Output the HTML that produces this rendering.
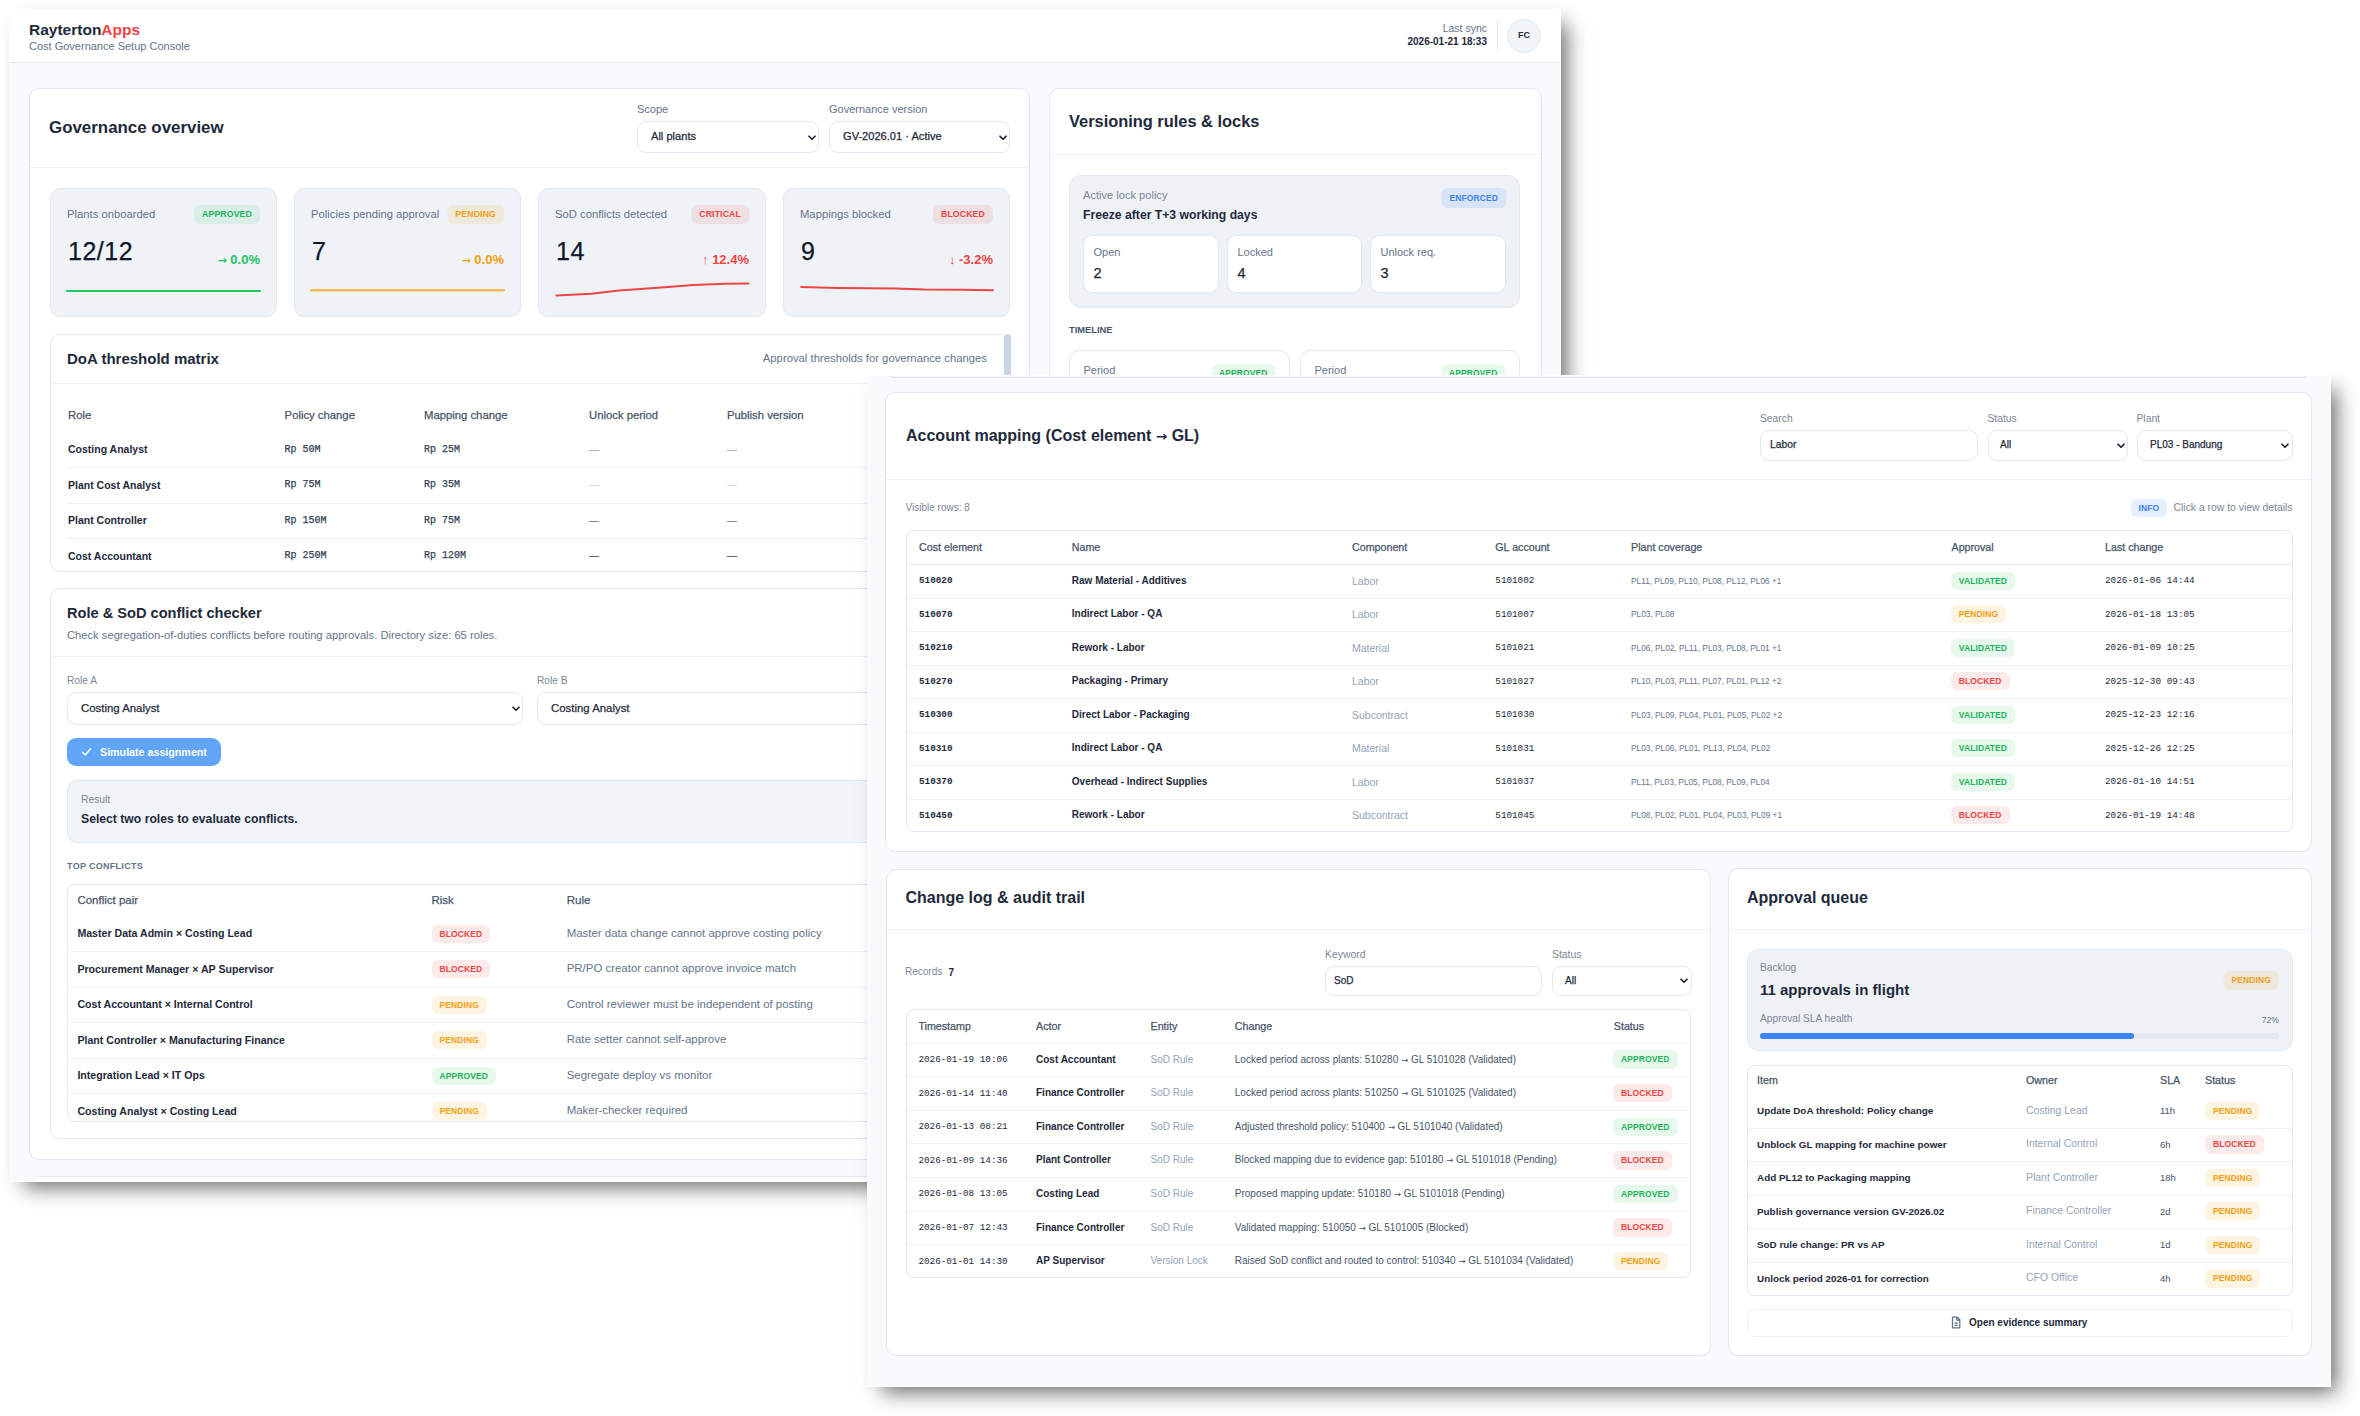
<!DOCTYPE html>
<html><head><meta charset="utf-8"><title>RaytertonApps - Cost Governance Setup Console</title><style>
*{box-sizing:content-box}
html,body{margin:0;padding:0}
body{width:2360px;height:1416px;background:#fff;position:relative;overflow:hidden;font-family:"Liberation Sans",Arial,sans-serif;color:#0f172a}
.shot{position:absolute;overflow:hidden;background:#f8fafc}
.in{position:absolute;left:0;top:0}
.t{position:absolute;white-space:nowrap;line-height:1}
.b{position:absolute}
.bd{position:absolute;white-space:nowrap;font-weight:700;border-radius:6px}
.md{-webkit-text-stroke:0.25px currentColor}
.ar{font-family:'DejaVu Sans',sans-serif;font-size:0.85em}
.card{position:absolute;background:#fff;border:1px solid #e2e8f0;border-radius:10px;box-sizing:border-box}
.hl{position:absolute;height:1px;background:#eef1f5}
</style></head><body>
<div class="shot" style="left:9px;top:9px;width:1552px;height:1173px;box-shadow:10px 10px 20px -5px rgba(0,0,0,.6);z-index:1;border-right:1px solid #fff;border-bottom:1px solid #fff;box-sizing:border-box">
<div class="in" style="left:-9px;top:-9px">
<div class="b" style="left:9px;top:9px;width:1552px;height:53px;background:#fff;border-bottom:1px solid #e8ecf1;"></div>
<div class="t" style="left:29px;top:21.8px;font-size:15.5px;font-weight:700;color:#1e293b">Rayterton<span style="color:#ef4444">Apps</span></div>
<div class="t" style="left:29px;top:41.0px;font-size:11px;font-weight:400;color:#64748b;">Cost Governance Setup Console</div>
<div class="t" style="left:1487px;top:22.8px;font-size:10.5px;font-weight:400;color:#64748b;transform:translateX(-100%);">Last sync</div>
<div class="t" style="left:1487px;top:36.8px;font-size:10px;font-weight:700;color:#1e293b;transform:translateX(-100%);">2026-01-21 18:33</div>
<div class="b" style="left:1497px;top:21px;width:1px;height:29px;background:#e2e8f0"></div>
<div class="b" style="left:1507px;top:18.5px;width:34px;height:34.0px;background:#f1f5f9;border:1px solid #e2e8f0;border-radius:50%;box-sizing:border-box"></div>
<div class="t" style="left:1524px;top:31.0px;font-size:9px;font-weight:700;color:#1e293b;transform:translateX(-50%);">FC</div>
<div class="card" style="left:29px;top:88px;width:1001px;height:1072px;"></div>
<div class="t" style="left:49px;top:120.4px;font-size:16.9px;font-weight:700;color:#1e293b;">Governance overview</div>
<div class="t" style="left:637px;top:104.0px;font-size:11px;font-weight:400;color:#64748b;">Scope</div>
<div class="b" style="left:637px;top:121px;width:182px;height:32px;background:#fff;border:1px solid #e2e8f0;border-radius:9px;box-sizing:border-box;"></div>
<div class="t md" style="left:651px;top:131.4px;font-size:11.1px;font-weight:400;color:#1e293b;">All plants</div>
<svg class="b" style="left:807.5px;top:134.5px" width="8" height="6" viewBox="0 0 8 6"><path d="M1 1.2 L4 4.2 L7 1.2" fill="none" stroke="#0f172a" stroke-width="1.6" stroke-linecap="round" stroke-linejoin="round"/></svg>
<div class="t" style="left:829px;top:104.0px;font-size:11px;font-weight:400;color:#64748b;">Governance version</div>
<div class="b" style="left:829px;top:121px;width:181px;height:32px;background:#fff;border:1px solid #e2e8f0;border-radius:9px;box-sizing:border-box;"></div>
<div class="t md" style="left:843px;top:131.4px;font-size:11.1px;font-weight:400;color:#1e293b;">GV-2026.01 · Active</div>
<svg class="b" style="left:998.5px;top:134.5px" width="8" height="6" viewBox="0 0 8 6"><path d="M1 1.2 L4 4.2 L7 1.2" fill="none" stroke="#0f172a" stroke-width="1.6" stroke-linecap="round" stroke-linejoin="round"/></svg>
<div class="hl" style="left:30px;top:167px;width:999px;background:#eef1f5"></div>
<div class="b" style="left:50px;top:188px;width:227px;height:129px;background:#eff3f8;border:1px solid #e2e8f0;border-radius:10px;box-sizing:border-box"></div>
<div class="t" style="left:67px;top:208.9px;font-size:11.25px;font-weight:400;color:#64748b;">Plants onboarded</div>
<div class="bd" style="left:260px;top:204.8px;height:19.5px;line-height:19.5px;padding:0 8px;background:rgba(34,197,94,.11);color:#22b45a;font-size:8.7px;letter-spacing:0.15px;transform:translateX(-100%);">APPROVED</div>
<div class="t md" style="left:68px;top:238.5px;font-size:25px;font-weight:400;color:#0f172a;letter-spacing:0.5px">12/12</div>
<div class="t" style="left:260px;top:252.5px;font-size:13px;font-weight:700;color:#22c55e;transform:translateX(-100%);"><span class="ar">→</span> 0.0%</div>
<div class="b" style="left:294px;top:188px;width:227px;height:129px;background:#eff3f8;border:1px solid #e2e8f0;border-radius:10px;box-sizing:border-box"></div>
<div class="t" style="left:311px;top:208.9px;font-size:11.25px;font-weight:400;color:#64748b;">Policies pending approval</div>
<div class="bd" style="left:504px;top:204.8px;height:19.5px;line-height:19.5px;padding:0 8px;background:rgba(245,158,11,.11);color:#f59e0b;font-size:8.7px;letter-spacing:0.15px;transform:translateX(-100%);">PENDING</div>
<div class="t md" style="left:312px;top:238.5px;font-size:25px;font-weight:400;color:#0f172a;letter-spacing:0.5px">7</div>
<div class="t" style="left:504px;top:252.5px;font-size:13px;font-weight:700;color:#f59e0b;transform:translateX(-100%);"><span class="ar">→</span> 0.0%</div>
<div class="b" style="left:538px;top:188px;width:228px;height:129px;background:#eff3f8;border:1px solid #e2e8f0;border-radius:10px;box-sizing:border-box"></div>
<div class="t" style="left:555px;top:208.9px;font-size:11.25px;font-weight:400;color:#64748b;">SoD conflicts detected</div>
<div class="bd" style="left:749px;top:204.8px;height:19.5px;line-height:19.5px;padding:0 8px;background:rgba(239,68,68,.11);color:#ef4444;font-size:8.7px;letter-spacing:0.15px;transform:translateX(-100%);">CRITICAL</div>
<div class="t md" style="left:556px;top:238.5px;font-size:25px;font-weight:400;color:#0f172a;letter-spacing:0.5px">14</div>
<div class="t" style="left:749px;top:252.5px;font-size:13px;font-weight:700;color:#ef4444;transform:translateX(-100%);">↑ 12.4%</div>
<div class="b" style="left:783px;top:188px;width:227px;height:129px;background:#eff3f8;border:1px solid #e2e8f0;border-radius:10px;box-sizing:border-box"></div>
<div class="t" style="left:800px;top:208.9px;font-size:11.25px;font-weight:400;color:#64748b;">Mappings blocked</div>
<div class="bd" style="left:993px;top:204.8px;height:19.5px;line-height:19.5px;padding:0 8px;background:rgba(239,68,68,.11);color:#ef4444;font-size:8.7px;letter-spacing:0.15px;transform:translateX(-100%);">BLOCKED</div>
<div class="t md" style="left:801px;top:238.5px;font-size:25px;font-weight:400;color:#0f172a;letter-spacing:0.5px">9</div>
<div class="t" style="left:993px;top:252.5px;font-size:13px;font-weight:700;color:#ef4444;transform:translateX(-100%);">↓ -3.2%</div>
<svg class="b" style="left:0;top:0" width="1040" height="320" viewBox="0 0 1040 320"><path d="M67 291 L260 291" fill="none" stroke="#22c55e" stroke-width="2" stroke-linecap="round" stroke-linejoin="round"/><path d="M311 290.3 L504 290.3" fill="none" stroke="#f8b133" stroke-width="2" stroke-linecap="round" stroke-linejoin="round"/><path d="M556.5 295.5 L591.4 293.8 L619 290.6 L661.4 287.6 L693.1 285.1 L724.9 283.8 L748.5 283.4" fill="none" stroke="#ef4444" stroke-width="2" stroke-linecap="round" stroke-linejoin="round"/><path d="M801 286.9 L838.4 287.9 L895.6 288.4 L924.2 289.6 L962.3 289.8 L993 290.3" fill="none" stroke="#ef4444" stroke-width="2" stroke-linecap="round" stroke-linejoin="round"/></svg>
<div class="card" style="left:50px;top:334px;width:980px;height:238px;"></div>
<div class="t" style="left:67px;top:351.0px;font-size:15px;font-weight:700;color:#1e293b;">DoA threshold matrix</div>
<div class="t" style="left:987px;top:352.9px;font-size:11.3px;font-weight:400;color:#64748b;transform:translateX(-100%);">Approval thresholds for governance changes</div>
<div class="hl" style="left:51px;top:383px;width:948px;background:#eef1f5"></div>
<div class="t md" style="left:68px;top:410.4px;font-size:11.3px;font-weight:400;color:#475569;">Role</div>
<div class="t md" style="left:284.6px;top:410.4px;font-size:11.3px;font-weight:400;color:#475569;">Policy change</div>
<div class="t md" style="left:424px;top:410.4px;font-size:11.3px;font-weight:400;color:#475569;">Mapping change</div>
<div class="t md" style="left:589px;top:410.4px;font-size:11.3px;font-weight:400;color:#475569;">Unlock period</div>
<div class="t md" style="left:727px;top:410.4px;font-size:11.3px;font-weight:400;color:#475569;">Publish version</div>
<div class="t" style="left:68px;top:444.4px;font-size:10.5px;font-weight:700;color:#1e293b;">Costing Analyst</div>
<div class="t md" style="left:284.6px;top:444.6px;font-size:10px;font-weight:400;color:#334155;font-family:'Liberation Mono',monospace;">Rp 50M</div>
<div class="t md" style="left:424px;top:444.6px;font-size:10px;font-weight:400;color:#334155;font-family:'Liberation Mono',monospace;">Rp 25M</div>
<div class="t" style="left:589px;top:444.6px;font-size:10px;font-weight:400;color:#94a3b8;">—</div>
<div class="t" style="left:727px;top:444.6px;font-size:10px;font-weight:400;color:#94a3b8;">—</div>
<div class="hl" style="left:67px;top:467.1px;width:933px;background:#eef1f5"></div>
<div class="t" style="left:68px;top:479.9px;font-size:10.5px;font-weight:700;color:#1e293b;">Plant Cost Analyst</div>
<div class="t md" style="left:284.6px;top:480.1px;font-size:10px;font-weight:400;color:#334155;font-family:'Liberation Mono',monospace;">Rp 75M</div>
<div class="t md" style="left:424px;top:480.1px;font-size:10px;font-weight:400;color:#334155;font-family:'Liberation Mono',monospace;">Rp 35M</div>
<div class="t" style="left:589px;top:480.1px;font-size:10px;font-weight:400;color:#cbd5e1;">—</div>
<div class="t" style="left:727px;top:480.1px;font-size:10px;font-weight:400;color:#cbd5e1;">—</div>
<div class="hl" style="left:67px;top:502.6px;width:933px;background:#eef1f5"></div>
<div class="t" style="left:68px;top:515.4px;font-size:10.5px;font-weight:700;color:#1e293b;">Plant Controller</div>
<div class="t md" style="left:284.6px;top:515.6px;font-size:10px;font-weight:400;color:#334155;font-family:'Liberation Mono',monospace;">Rp 150M</div>
<div class="t md" style="left:424px;top:515.6px;font-size:10px;font-weight:400;color:#334155;font-family:'Liberation Mono',monospace;">Rp 75M</div>
<div class="t" style="left:589px;top:515.6px;font-size:10px;font-weight:400;color:#64748b;">—</div>
<div class="t" style="left:727px;top:515.6px;font-size:10px;font-weight:400;color:#64748b;">—</div>
<div class="hl" style="left:67px;top:538.1px;width:933px;background:#eef1f5"></div>
<div class="t" style="left:68px;top:550.9px;font-size:10.5px;font-weight:700;color:#1e293b;">Cost Accountant</div>
<div class="t md" style="left:284.6px;top:551.1px;font-size:10px;font-weight:400;color:#334155;font-family:'Liberation Mono',monospace;">Rp 250M</div>
<div class="t md" style="left:424px;top:551.1px;font-size:10px;font-weight:400;color:#334155;font-family:'Liberation Mono',monospace;">Rp 120M</div>
<div class="t" style="left:589px;top:551.1px;font-size:10px;font-weight:400;color:#334155;">—</div>
<div class="t" style="left:727px;top:551.1px;font-size:10px;font-weight:400;color:#334155;">—</div>
<div class="card" style="left:50px;top:588px;width:980px;height:551px;"></div>
<div class="t" style="left:67px;top:605.7px;font-size:14.6px;font-weight:700;color:#1e293b;">Role &amp; SoD conflict checker</div>
<div class="t" style="left:67px;top:629.9px;font-size:11.2px;font-weight:400;color:#64748b;">Check segregation-of-duties conflicts before routing approvals. Directory size: 65 roles.</div>
<div class="hl" style="left:51px;top:655.5px;width:948px;background:#eef1f5"></div>
<div class="t" style="left:67px;top:675.9px;font-size:10.2px;font-weight:400;color:#7b8696;">Role A</div>
<div class="b" style="left:67px;top:692px;width:456px;height:33px;background:#fff;border:1px solid #e2e8f0;border-radius:9px;box-sizing:border-box;"></div>
<div class="t md" style="left:81px;top:702.8px;font-size:11.4px;font-weight:400;color:#1e293b;">Costing Analyst</div>
<svg class="b" style="left:511.5px;top:706.0px" width="8" height="6" viewBox="0 0 8 6"><path d="M1 1.2 L4 4.2 L7 1.2" fill="none" stroke="#0f172a" stroke-width="1.6" stroke-linecap="round" stroke-linejoin="round"/></svg>
<div class="t" style="left:537px;top:675.9px;font-size:10.2px;font-weight:400;color:#7b8696;">Role B</div>
<div class="b" style="left:537px;top:692px;width:456px;height:33px;background:#fff;border:1px solid #e2e8f0;border-radius:9px;box-sizing:border-box;"></div>
<div class="t md" style="left:551px;top:702.8px;font-size:11.4px;font-weight:400;color:#1e293b;">Costing Analyst</div>
<svg class="b" style="left:981.5px;top:706.0px" width="8" height="6" viewBox="0 0 8 6"><path d="M1 1.2 L4 4.2 L7 1.2" fill="none" stroke="#0f172a" stroke-width="1.6" stroke-linecap="round" stroke-linejoin="round"/></svg>
<div class="b" style="left:67px;top:738px;width:154px;height:28px;background:#60a5fa;border-radius:9px"></div>
<svg class="b" style="left:81px;top:747px" width="11" height="10" viewBox="0 0 11 10"><path d="M1.5 5.2 L4.3 8 L9.5 1.8" fill="none" stroke="#fff" stroke-width="1.6" stroke-linecap="round" stroke-linejoin="round"/></svg>
<div class="t" style="left:100px;top:746.6px;font-size:10.7px;font-weight:700;color:#fff;">Simulate assignment</div>
<div class="b" style="left:67px;top:779.5px;width:926px;height:63.5px;background:#f1f5f9;border:1px solid #e2e8f0;border-radius:10px;box-sizing:border-box"></div>
<div class="t" style="left:81px;top:795.4px;font-size:10.3px;font-weight:400;color:#7b8696;">Result</div>
<div class="t" style="left:81px;top:813.4px;font-size:12.2px;font-weight:700;color:#1e293b;">Select two roles to evaluate conflicts.</div>
<div class="t" style="left:67px;top:861.5px;font-size:9px;font-weight:700;color:#64748b;letter-spacing:0.3px">TOP CONFLICTS</div>
<div class="b" style="left:66.5px;top:884px;width:926.5px;height:238px;border:1px solid #e2e8f0;border-radius:8px;box-sizing:border-box;background:#fff"></div>
<div class="t md" style="left:77.4px;top:894.8px;font-size:11.5px;font-weight:400;color:#475569;">Conflict pair</div>
<div class="t md" style="left:431.5px;top:894.8px;font-size:11.5px;font-weight:400;color:#475569;">Risk</div>
<div class="t md" style="left:566.7px;top:894.8px;font-size:11.5px;font-weight:400;color:#475569;">Rule</div>
<div class="t" style="left:77.4px;top:928.2px;font-size:10.6px;font-weight:700;color:#1e293b;">Master Data Admin × Costing Lead</div>
<div class="bd" style="left:431.5px;top:924.5px;height:18px;line-height:18px;padding:0 8px;background:rgba(239,68,68,.11);color:#ef4444;font-size:8.5px;letter-spacing:0.1px;">BLOCKED</div>
<div class="t" style="left:566.7px;top:927.8px;font-size:11.45px;font-weight:400;color:#64748b;">Master data change cannot approve costing policy</div>
<div class="hl" style="left:67px;top:951.2px;width:925px;background:#eef1f5"></div>
<div class="t" style="left:77.4px;top:963.7px;font-size:10.6px;font-weight:700;color:#1e293b;">Procurement Manager × AP Supervisor</div>
<div class="bd" style="left:431.5px;top:960.0px;height:18px;line-height:18px;padding:0 8px;background:rgba(239,68,68,.11);color:#ef4444;font-size:8.5px;letter-spacing:0.1px;">BLOCKED</div>
<div class="t" style="left:566.7px;top:963.3px;font-size:11.45px;font-weight:400;color:#64748b;">PR/PO creator cannot approve invoice match</div>
<div class="hl" style="left:67px;top:986.7px;width:925px;background:#eef1f5"></div>
<div class="t" style="left:77.4px;top:999.2px;font-size:10.6px;font-weight:700;color:#1e293b;">Cost Accountant × Internal Control</div>
<div class="bd" style="left:431.5px;top:995.5px;height:18px;line-height:18px;padding:0 8px;background:rgba(245,158,11,.11);color:#f59e0b;font-size:8.5px;letter-spacing:0.1px;">PENDING</div>
<div class="t" style="left:566.7px;top:998.8px;font-size:11.45px;font-weight:400;color:#64748b;">Control reviewer must be independent of posting</div>
<div class="hl" style="left:67px;top:1022.2px;width:925px;background:#eef1f5"></div>
<div class="t" style="left:77.4px;top:1034.7px;font-size:10.6px;font-weight:700;color:#1e293b;">Plant Controller × Manufacturing Finance</div>
<div class="bd" style="left:431.5px;top:1031.0px;height:18px;line-height:18px;padding:0 8px;background:rgba(245,158,11,.11);color:#f59e0b;font-size:8.5px;letter-spacing:0.1px;">PENDING</div>
<div class="t" style="left:566.7px;top:1034.3px;font-size:11.45px;font-weight:400;color:#64748b;">Rate setter cannot self-approve</div>
<div class="hl" style="left:67px;top:1057.7px;width:925px;background:#eef1f5"></div>
<div class="t" style="left:77.4px;top:1070.2px;font-size:10.6px;font-weight:700;color:#1e293b;">Integration Lead × IT Ops</div>
<div class="bd" style="left:431.5px;top:1066.5px;height:18px;line-height:18px;padding:0 8px;background:rgba(34,197,94,.11);color:#22b45a;font-size:8.5px;letter-spacing:0.1px;">APPROVED</div>
<div class="t" style="left:566.7px;top:1069.8px;font-size:11.45px;font-weight:400;color:#64748b;">Segregate deploy vs monitor</div>
<div class="hl" style="left:67px;top:1093.2px;width:925px;background:#eef1f5"></div>
<div class="t" style="left:77.4px;top:1105.7px;font-size:10.6px;font-weight:700;color:#1e293b;">Costing Analyst × Costing Lead</div>
<div class="bd" style="left:431.5px;top:1102.0px;height:18px;line-height:18px;padding:0 8px;background:rgba(245,158,11,.11);color:#f59e0b;font-size:8.5px;letter-spacing:0.1px;">PENDING</div>
<div class="t" style="left:566.7px;top:1105.3px;font-size:11.45px;font-weight:400;color:#64748b;">Maker-checker required</div>
<div class="b" style="left:1002.6px;top:320px;width:26.399999999999977px;height:839px;background:#fff"></div>
<div class="b" style="left:1003.5px;top:334px;width:7.100000000000023px;height:366px;background:#cbd5e1;border-radius:4px"></div>
<div class="card" style="left:30px;top:1176px;width:1000px;height:124px;"></div>
<div class="card" style="left:1049px;top:88px;width:493px;height:1072px;"></div>
<div class="t" style="left:1069px;top:113.3px;font-size:16.4px;font-weight:700;color:#1e293b;">Versioning rules &amp; locks</div>
<div class="hl" style="left:1050px;top:154px;width:491px;background:#eef1f5"></div>
<div class="b" style="left:1069px;top:175px;width:451px;height:133px;background:#eef2f7;border:1px solid #e2e8f0;border-radius:12px;box-sizing:border-box"></div>
<div class="t" style="left:1083px;top:189.9px;font-size:11.1px;font-weight:400;color:#7b8696;">Active lock policy</div>
<div class="t" style="left:1083px;top:208.9px;font-size:12.2px;font-weight:700;color:#1e293b;">Freeze after T+3 working days</div>
<div class="bd" style="left:1506px;top:188.0px;height:20px;line-height:20px;padding:0 8px;background:rgba(59,130,246,.13);color:#3b82f6;font-size:8.5px;letter-spacing:0.1px;transform:translateX(-100%);">ENFORCED</div>
<div class="b" style="left:1083px;top:235px;width:135.5px;height:58px;background:#fff;border:1px solid #e2e8f0;border-radius:10px;box-sizing:border-box"></div>
<div class="t" style="left:1093.5px;top:247.0px;font-size:11px;font-weight:400;color:#64748b;">Open</div>
<div class="t md" style="left:1093.5px;top:266.2px;font-size:14.5px;font-weight:400;color:#1e293b;">2</div>
<div class="b" style="left:1227px;top:235px;width:134.5px;height:58px;background:#fff;border:1px solid #e2e8f0;border-radius:10px;box-sizing:border-box"></div>
<div class="t" style="left:1237.5px;top:247.0px;font-size:11px;font-weight:400;color:#64748b;">Locked</div>
<div class="t md" style="left:1237.5px;top:266.2px;font-size:14.5px;font-weight:400;color:#1e293b;">4</div>
<div class="b" style="left:1370px;top:235px;width:135.5px;height:58px;background:#fff;border:1px solid #e2e8f0;border-radius:10px;box-sizing:border-box"></div>
<div class="t" style="left:1380.5px;top:247.0px;font-size:11px;font-weight:400;color:#64748b;">Unlock req.</div>
<div class="t md" style="left:1380.5px;top:266.2px;font-size:14.5px;font-weight:400;color:#1e293b;">3</div>
<div class="t" style="left:1069px;top:326.4px;font-size:9.3px;font-weight:700;color:#475569;">TIMELINE</div>
<div class="b" style="left:1069px;top:349.5px;width:221px;height:110.5px;background:#fff;border:1px solid #e2e8f0;border-radius:10px;box-sizing:border-box"></div>
<div class="t" style="left:1083.5px;top:365.0px;font-size:11px;font-weight:400;color:#64748b;">Period</div>
<div class="bd" style="left:1275.5px;top:364.0px;height:18px;line-height:18px;padding:0 8px;background:rgba(34,197,94,.11);color:#22b45a;font-size:8.5px;letter-spacing:0.1px;transform:translateX(-100%);">APPROVED</div>
<div class="b" style="left:1300px;top:349.5px;width:220px;height:110.5px;background:#fff;border:1px solid #e2e8f0;border-radius:10px;box-sizing:border-box"></div>
<div class="t" style="left:1314.5px;top:365.0px;font-size:11px;font-weight:400;color:#64748b;">Period</div>
<div class="bd" style="left:1505.5px;top:364.0px;height:18px;line-height:18px;padding:0 8px;background:rgba(34,197,94,.11);color:#22b45a;font-size:8.5px;letter-spacing:0.1px;transform:translateX(-100%);">APPROVED</div>
</div></div>
<div class="shot" style="left:867px;top:375px;width:1464px;height:1012px;box-shadow:10px 10px 20px -5px rgba(0,0,0,.6);z-index:2;border-right:1px solid #fff;border-bottom:1px solid #fff;border-top:1px solid #fff;box-sizing:border-box;clip-path:inset(0 -80px -80px -80px)">
<div class="in" style="left:-867px;top:-376px">
<div class="card" style="left:884px;top:250px;width:1427px;height:127.80000000000001px;background:#f5f7f9;border-color:#e0e4e9"></div>
<div class="card" style="left:885px;top:392px;width:1427px;height:460px;"></div>
<div class="t" style="left:906px;top:428.0px;font-size:16px;font-weight:700;color:#1e293b;">Account mapping (Cost element <span class="ar">→</span> GL)</div>
<div class="t" style="left:1760px;top:413.9px;font-size:10.3px;font-weight:400;color:#7b8696;">Search</div>
<div class="b" style="left:1760px;top:429.5px;width:218px;height:31.0px;background:#fff;border:1px solid #e2e8f0;border-radius:9px;box-sizing:border-box;"></div>
<div class="t md" style="left:1770px;top:439.9px;font-size:10.3px;font-weight:400;color:#1e293b;">Labor</div>
<div class="t" style="left:1987.5px;top:413.9px;font-size:10.3px;font-weight:400;color:#7b8696;">Status</div>
<div class="b" style="left:1987.5px;top:429.5px;width:140.5px;height:31.0px;background:#fff;border:1px solid #e2e8f0;border-radius:9px;box-sizing:border-box;"></div>
<div class="t md" style="left:2000px;top:440.0px;font-size:10px;font-weight:400;color:#1e293b;">All</div>
<svg class="b" style="left:2116.5px;top:442.5px" width="8" height="6" viewBox="0 0 8 6"><path d="M1 1.2 L4 4.2 L7 1.2" fill="none" stroke="#0f172a" stroke-width="1.6" stroke-linecap="round" stroke-linejoin="round"/></svg>
<div class="t" style="left:2136.5px;top:413.9px;font-size:10.3px;font-weight:400;color:#7b8696;">Plant</div>
<div class="b" style="left:2136.5px;top:429.5px;width:156.0px;height:31.0px;background:#fff;border:1px solid #e2e8f0;border-radius:9px;box-sizing:border-box;"></div>
<div class="t md" style="left:2150px;top:440.0px;font-size:10px;font-weight:400;color:#1e293b;">PL03 - Bandung</div>
<svg class="b" style="left:2281.0px;top:442.5px" width="8" height="6" viewBox="0 0 8 6"><path d="M1 1.2 L4 4.2 L7 1.2" fill="none" stroke="#0f172a" stroke-width="1.6" stroke-linecap="round" stroke-linejoin="round"/></svg>
<div class="hl" style="left:886px;top:479px;width:1425px;background:#eef1f5"></div>
<div class="t" style="left:905.5px;top:502.5px;font-size:10px;font-weight:400;color:#7b8696;">Visible rows: 8</div>
<div class="bd" style="left:2130.5px;top:499.0px;height:18px;line-height:18px;padding:0 8px;background:rgba(59,130,246,.13);color:#3b82f6;font-size:8.5px;letter-spacing:0.1px;">INFO</div>
<div class="t" style="left:2292.5px;top:502.8px;font-size:10.4px;font-weight:400;color:#7b8696;transform:translateX(-100%);">Click a row to view details</div>
<div class="b" style="left:905.5px;top:530px;width:1387.0px;height:302px;border:1px solid #e2e8f0;border-radius:8px;box-sizing:border-box;background:#fff"></div>
<div class="t md" style="left:919px;top:541.6px;font-size:10.7px;font-weight:400;color:#475569;">Cost element</div>
<div class="t md" style="left:1071.8px;top:541.6px;font-size:10.7px;font-weight:400;color:#475569;">Name</div>
<div class="t md" style="left:1352px;top:541.6px;font-size:10.7px;font-weight:400;color:#475569;">Component</div>
<div class="t md" style="left:1495.3px;top:541.6px;font-size:10.7px;font-weight:400;color:#475569;">GL account</div>
<div class="t md" style="left:1631px;top:541.6px;font-size:10.7px;font-weight:400;color:#475569;">Plant coverage</div>
<div class="t md" style="left:1951.5px;top:541.6px;font-size:10.7px;font-weight:400;color:#475569;">Approval</div>
<div class="t md" style="left:2105px;top:541.6px;font-size:10.7px;font-weight:400;color:#475569;">Last change</div>
<div class="hl" style="left:906px;top:563.5px;width:1386px;background:#e8ecf1"></div>
<div class="t" style="left:919px;top:576.1px;font-size:9.3px;font-weight:700;color:#1e293b;font-family:'Liberation Mono',monospace;">510020</div>
<div class="t" style="left:1071.8px;top:575.8px;font-size:10px;font-weight:700;color:#1e293b;">Raw Material - Additives</div>
<div class="t" style="left:1352px;top:575.5px;font-size:10.5px;font-weight:400;color:#94a3b8;">Labor</div>
<div class="t" style="left:1495.3px;top:576.1px;font-size:9.3px;font-weight:400;color:#1e293b;font-family:'Liberation Mono',monospace;">5101002</div>
<div class="t" style="left:1631px;top:576.6px;font-size:8.3px;font-weight:400;color:#64748b;">PL11, PL09, PL10, PL08, PL12, PL06 +1</div>
<div class="bd" style="left:1950.8px;top:571.6px;height:18.4px;line-height:18.4px;padding:0 8px;background:rgba(34,197,94,.11);color:#22b45a;font-size:8.5px;letter-spacing:0.1px;">VALIDATED</div>
<div class="t" style="left:2105px;top:576.1px;font-size:9.35px;font-weight:400;color:#1e293b;font-family:'Liberation Mono',monospace;">2026-01-06 14:44</div>
<div class="hl" style="left:906px;top:597.5px;width:1386px;background:#eef1f5"></div>
<div class="t" style="left:919px;top:609.6px;font-size:9.3px;font-weight:700;color:#1e293b;font-family:'Liberation Mono',monospace;">510070</div>
<div class="t" style="left:1071.8px;top:609.3px;font-size:10px;font-weight:700;color:#1e293b;">Indirect Labor - QA</div>
<div class="t" style="left:1352px;top:609.0px;font-size:10.5px;font-weight:400;color:#94a3b8;">Labor</div>
<div class="t" style="left:1495.3px;top:609.6px;font-size:9.3px;font-weight:400;color:#1e293b;font-family:'Liberation Mono',monospace;">5101007</div>
<div class="t" style="left:1631px;top:610.1px;font-size:8.3px;font-weight:400;color:#64748b;">PL03, PL08</div>
<div class="bd" style="left:1950.8px;top:605.1px;height:18.4px;line-height:18.4px;padding:0 8px;background:rgba(245,158,11,.11);color:#f59e0b;font-size:8.5px;letter-spacing:0.1px;">PENDING</div>
<div class="t" style="left:2105px;top:609.6px;font-size:9.35px;font-weight:400;color:#1e293b;font-family:'Liberation Mono',monospace;">2026-01-18 13:05</div>
<div class="hl" style="left:906px;top:631.0px;width:1386px;background:#eef1f5"></div>
<div class="t" style="left:919px;top:643.1px;font-size:9.3px;font-weight:700;color:#1e293b;font-family:'Liberation Mono',monospace;">510210</div>
<div class="t" style="left:1071.8px;top:642.8px;font-size:10px;font-weight:700;color:#1e293b;">Rework - Labor</div>
<div class="t" style="left:1352px;top:642.5px;font-size:10.5px;font-weight:400;color:#94a3b8;">Material</div>
<div class="t" style="left:1495.3px;top:643.1px;font-size:9.3px;font-weight:400;color:#1e293b;font-family:'Liberation Mono',monospace;">5101021</div>
<div class="t" style="left:1631px;top:643.6px;font-size:8.3px;font-weight:400;color:#64748b;">PL06, PL02, PL11, PL03, PL08, PL01 +1</div>
<div class="bd" style="left:1950.8px;top:638.6px;height:18.4px;line-height:18.4px;padding:0 8px;background:rgba(34,197,94,.11);color:#22b45a;font-size:8.5px;letter-spacing:0.1px;">VALIDATED</div>
<div class="t" style="left:2105px;top:643.1px;font-size:9.35px;font-weight:400;color:#1e293b;font-family:'Liberation Mono',monospace;">2026-01-09 10:25</div>
<div class="hl" style="left:906px;top:664.5px;width:1386px;background:#eef1f5"></div>
<div class="t" style="left:919px;top:676.6px;font-size:9.3px;font-weight:700;color:#1e293b;font-family:'Liberation Mono',monospace;">510270</div>
<div class="t" style="left:1071.8px;top:676.3px;font-size:10px;font-weight:700;color:#1e293b;">Packaging - Primary</div>
<div class="t" style="left:1352px;top:676.0px;font-size:10.5px;font-weight:400;color:#94a3b8;">Labor</div>
<div class="t" style="left:1495.3px;top:676.6px;font-size:9.3px;font-weight:400;color:#1e293b;font-family:'Liberation Mono',monospace;">5101027</div>
<div class="t" style="left:1631px;top:677.1px;font-size:8.3px;font-weight:400;color:#64748b;">PL10, PL03, PL11, PL07, PL01, PL12 +2</div>
<div class="bd" style="left:1950.8px;top:672.1px;height:18.4px;line-height:18.4px;padding:0 8px;background:rgba(239,68,68,.11);color:#ef4444;font-size:8.5px;letter-spacing:0.1px;">BLOCKED</div>
<div class="t" style="left:2105px;top:676.6px;font-size:9.35px;font-weight:400;color:#1e293b;font-family:'Liberation Mono',monospace;">2025-12-30 09:43</div>
<div class="hl" style="left:906px;top:698.0px;width:1386px;background:#eef1f5"></div>
<div class="t" style="left:919px;top:710.1px;font-size:9.3px;font-weight:700;color:#1e293b;font-family:'Liberation Mono',monospace;">510300</div>
<div class="t" style="left:1071.8px;top:709.8px;font-size:10px;font-weight:700;color:#1e293b;">Direct Labor - Packaging</div>
<div class="t" style="left:1352px;top:709.5px;font-size:10.5px;font-weight:400;color:#94a3b8;">Subcontract</div>
<div class="t" style="left:1495.3px;top:710.1px;font-size:9.3px;font-weight:400;color:#1e293b;font-family:'Liberation Mono',monospace;">5101030</div>
<div class="t" style="left:1631px;top:710.6px;font-size:8.3px;font-weight:400;color:#64748b;">PL03, PL09, PL04, PL01, PL05, PL02 +2</div>
<div class="bd" style="left:1950.8px;top:705.6px;height:18.4px;line-height:18.4px;padding:0 8px;background:rgba(34,197,94,.11);color:#22b45a;font-size:8.5px;letter-spacing:0.1px;">VALIDATED</div>
<div class="t" style="left:2105px;top:710.1px;font-size:9.35px;font-weight:400;color:#1e293b;font-family:'Liberation Mono',monospace;">2025-12-23 12:16</div>
<div class="hl" style="left:906px;top:731.5px;width:1386px;background:#eef1f5"></div>
<div class="t" style="left:919px;top:743.6px;font-size:9.3px;font-weight:700;color:#1e293b;font-family:'Liberation Mono',monospace;">510310</div>
<div class="t" style="left:1071.8px;top:743.3px;font-size:10px;font-weight:700;color:#1e293b;">Indirect Labor - QA</div>
<div class="t" style="left:1352px;top:743.0px;font-size:10.5px;font-weight:400;color:#94a3b8;">Material</div>
<div class="t" style="left:1495.3px;top:743.6px;font-size:9.3px;font-weight:400;color:#1e293b;font-family:'Liberation Mono',monospace;">5101031</div>
<div class="t" style="left:1631px;top:744.1px;font-size:8.3px;font-weight:400;color:#64748b;">PL03, PL06, PL01, PL13, PL04, PL02</div>
<div class="bd" style="left:1950.8px;top:739.1px;height:18.4px;line-height:18.4px;padding:0 8px;background:rgba(34,197,94,.11);color:#22b45a;font-size:8.5px;letter-spacing:0.1px;">VALIDATED</div>
<div class="t" style="left:2105px;top:743.6px;font-size:9.35px;font-weight:400;color:#1e293b;font-family:'Liberation Mono',monospace;">2025-12-26 12:25</div>
<div class="hl" style="left:906px;top:765.0px;width:1386px;background:#eef1f5"></div>
<div class="t" style="left:919px;top:777.1px;font-size:9.3px;font-weight:700;color:#1e293b;font-family:'Liberation Mono',monospace;">510370</div>
<div class="t" style="left:1071.8px;top:776.8px;font-size:10px;font-weight:700;color:#1e293b;">Overhead - Indirect Supplies</div>
<div class="t" style="left:1352px;top:776.5px;font-size:10.5px;font-weight:400;color:#94a3b8;">Labor</div>
<div class="t" style="left:1495.3px;top:777.1px;font-size:9.3px;font-weight:400;color:#1e293b;font-family:'Liberation Mono',monospace;">5101037</div>
<div class="t" style="left:1631px;top:777.6px;font-size:8.3px;font-weight:400;color:#64748b;">PL11, PL03, PL05, PL08, PL09, PL04</div>
<div class="bd" style="left:1950.8px;top:772.6px;height:18.4px;line-height:18.4px;padding:0 8px;background:rgba(34,197,94,.11);color:#22b45a;font-size:8.5px;letter-spacing:0.1px;">VALIDATED</div>
<div class="t" style="left:2105px;top:777.1px;font-size:9.35px;font-weight:400;color:#1e293b;font-family:'Liberation Mono',monospace;">2026-01-10 14:51</div>
<div class="hl" style="left:906px;top:798.5px;width:1386px;background:#eef1f5"></div>
<div class="t" style="left:919px;top:810.6px;font-size:9.3px;font-weight:700;color:#1e293b;font-family:'Liberation Mono',monospace;">510450</div>
<div class="t" style="left:1071.8px;top:810.3px;font-size:10px;font-weight:700;color:#1e293b;">Rework - Labor</div>
<div class="t" style="left:1352px;top:810.0px;font-size:10.5px;font-weight:400;color:#94a3b8;">Subcontract</div>
<div class="t" style="left:1495.3px;top:810.6px;font-size:9.3px;font-weight:400;color:#1e293b;font-family:'Liberation Mono',monospace;">5101045</div>
<div class="t" style="left:1631px;top:811.1px;font-size:8.3px;font-weight:400;color:#64748b;">PL08, PL02, PL01, PL04, PL03, PL09 +1</div>
<div class="bd" style="left:1950.8px;top:806.1px;height:18.4px;line-height:18.4px;padding:0 8px;background:rgba(239,68,68,.11);color:#ef4444;font-size:8.5px;letter-spacing:0.1px;">BLOCKED</div>
<div class="t" style="left:2105px;top:810.6px;font-size:9.35px;font-weight:400;color:#1e293b;font-family:'Liberation Mono',monospace;">2026-01-19 14:48</div>
<div class="card" style="left:886px;top:868.5px;width:825px;height:487.5px;"></div>
<div class="t" style="left:905.5px;top:890.0px;font-size:16px;font-weight:700;color:#1e293b;">Change log &amp; audit trail</div>
<div class="hl" style="left:887px;top:929px;width:823px;background:#eef1f5"></div>
<div class="t" style="left:905px;top:967.0px;font-size:10px;font-weight:400;color:#7b8696;">Records</div>
<div class="t" style="left:948.5px;top:967.5px;font-size:10px;font-weight:700;color:#1e293b;">7</div>
<div class="t" style="left:1325px;top:949.8px;font-size:10.4px;font-weight:400;color:#7b8696;">Keyword</div>
<div class="b" style="left:1325px;top:965.5px;width:217px;height:30.0px;background:#fff;border:1px solid #e2e8f0;border-radius:9px;box-sizing:border-box;"></div>
<div class="t md" style="left:1334px;top:975.5px;font-size:10px;font-weight:400;color:#1e293b;">SoD</div>
<div class="t" style="left:1552px;top:949.8px;font-size:10.4px;font-weight:400;color:#7b8696;">Status</div>
<div class="b" style="left:1552px;top:965.5px;width:139.5px;height:30.0px;background:#fff;border:1px solid #e2e8f0;border-radius:9px;box-sizing:border-box;"></div>
<div class="t md" style="left:1565px;top:975.5px;font-size:10px;font-weight:400;color:#1e293b;">All</div>
<svg class="b" style="left:1680.0px;top:978.0px" width="8" height="6" viewBox="0 0 8 6"><path d="M1 1.2 L4 4.2 L7 1.2" fill="none" stroke="#0f172a" stroke-width="1.6" stroke-linecap="round" stroke-linejoin="round"/></svg>
<div class="b" style="left:905.5px;top:1008.5px;width:785.5px;height:269.5px;border:1px solid #e2e8f0;border-radius:8px;box-sizing:border-box;background:#fff"></div>
<div class="t md" style="left:918.4px;top:1020.6px;font-size:10.7px;font-weight:400;color:#475569;">Timestamp</div>
<div class="t md" style="left:1036px;top:1020.6px;font-size:10.7px;font-weight:400;color:#475569;">Actor</div>
<div class="t md" style="left:1150.5px;top:1020.6px;font-size:10.7px;font-weight:400;color:#475569;">Entity</div>
<div class="t md" style="left:1234.8px;top:1020.6px;font-size:10.7px;font-weight:400;color:#475569;">Change</div>
<div class="t md" style="left:1613.8px;top:1020.6px;font-size:10.7px;font-weight:400;color:#475569;">Status</div>
<div class="hl" style="left:906px;top:1042.6px;width:784px;background:#eef1f5"></div>
<div class="t" style="left:918.4px;top:1054.9px;font-size:9.3px;font-weight:400;color:#1e293b;font-family:'Liberation Mono',monospace;">2026-01-19 10:06</div>
<div class="t" style="left:1036px;top:1054.6px;font-size:10px;font-weight:700;color:#1e293b;">Cost Accountant</div>
<div class="t" style="left:1150.5px;top:1054.6px;font-size:10px;font-weight:400;color:#94a3b8;">SoD Rule</div>
<div class="t" style="left:1234.8px;top:1054.6px;font-size:10px;font-weight:400;color:#475569;">Locked period across plants: 510280 <span class="ar">→</span> GL 5101028 (Validated)</div>
<div class="bd" style="left:1613px;top:1050.4px;height:18.4px;line-height:18.4px;padding:0 8px;background:rgba(34,197,94,.11);color:#22b45a;font-size:8.5px;letter-spacing:0.1px;">APPROVED</div>
<div class="hl" style="left:906px;top:1076.1999999999998px;width:784px;background:#eef1f5"></div>
<div class="t" style="left:918.4px;top:1088.5px;font-size:9.3px;font-weight:400;color:#1e293b;font-family:'Liberation Mono',monospace;">2026-01-14 11:40</div>
<div class="t" style="left:1036px;top:1088.2px;font-size:10px;font-weight:700;color:#1e293b;">Finance Controller</div>
<div class="t" style="left:1150.5px;top:1088.2px;font-size:10px;font-weight:400;color:#94a3b8;">SoD Rule</div>
<div class="t" style="left:1234.8px;top:1088.2px;font-size:10px;font-weight:400;color:#475569;">Locked period across plants: 510250 <span class="ar">→</span> GL 5101025 (Validated)</div>
<div class="bd" style="left:1613px;top:1084.0px;height:18.4px;line-height:18.4px;padding:0 8px;background:rgba(239,68,68,.11);color:#ef4444;font-size:8.5px;letter-spacing:0.1px;">BLOCKED</div>
<div class="hl" style="left:906px;top:1109.8px;width:784px;background:#eef1f5"></div>
<div class="t" style="left:918.4px;top:1122.1px;font-size:9.3px;font-weight:400;color:#1e293b;font-family:'Liberation Mono',monospace;">2026-01-13 08:21</div>
<div class="t" style="left:1036px;top:1121.8px;font-size:10px;font-weight:700;color:#1e293b;">Finance Controller</div>
<div class="t" style="left:1150.5px;top:1121.8px;font-size:10px;font-weight:400;color:#94a3b8;">SoD Rule</div>
<div class="t" style="left:1234.8px;top:1121.8px;font-size:10px;font-weight:400;color:#475569;">Adjusted threshold policy: 510400 <span class="ar">→</span> GL 5101040 (Validated)</div>
<div class="bd" style="left:1613px;top:1117.6px;height:18.4px;line-height:18.4px;padding:0 8px;background:rgba(34,197,94,.11);color:#22b45a;font-size:8.5px;letter-spacing:0.1px;">APPROVED</div>
<div class="hl" style="left:906px;top:1143.3999999999999px;width:784px;background:#eef1f5"></div>
<div class="t" style="left:918.4px;top:1155.7px;font-size:9.3px;font-weight:400;color:#1e293b;font-family:'Liberation Mono',monospace;">2026-01-09 14:36</div>
<div class="t" style="left:1036px;top:1155.4px;font-size:10px;font-weight:700;color:#1e293b;">Plant Controller</div>
<div class="t" style="left:1150.5px;top:1155.4px;font-size:10px;font-weight:400;color:#94a3b8;">SoD Rule</div>
<div class="t" style="left:1234.8px;top:1155.4px;font-size:10px;font-weight:400;color:#475569;">Blocked mapping due to evidence gap: 510180 <span class="ar">→</span> GL 5101018 (Pending)</div>
<div class="bd" style="left:1613px;top:1151.2px;height:18.4px;line-height:18.4px;padding:0 8px;background:rgba(239,68,68,.11);color:#ef4444;font-size:8.5px;letter-spacing:0.1px;">BLOCKED</div>
<div class="hl" style="left:906px;top:1177.0px;width:784px;background:#eef1f5"></div>
<div class="t" style="left:918.4px;top:1189.3px;font-size:9.3px;font-weight:400;color:#1e293b;font-family:'Liberation Mono',monospace;">2026-01-08 13:05</div>
<div class="t" style="left:1036px;top:1189.0px;font-size:10px;font-weight:700;color:#1e293b;">Costing Lead</div>
<div class="t" style="left:1150.5px;top:1189.0px;font-size:10px;font-weight:400;color:#94a3b8;">SoD Rule</div>
<div class="t" style="left:1234.8px;top:1189.0px;font-size:10px;font-weight:400;color:#475569;">Proposed mapping update: 510180 <span class="ar">→</span> GL 5101018 (Pending)</div>
<div class="bd" style="left:1613px;top:1184.8px;height:18.4px;line-height:18.4px;padding:0 8px;background:rgba(34,197,94,.11);color:#22b45a;font-size:8.5px;letter-spacing:0.1px;">APPROVED</div>
<div class="hl" style="left:906px;top:1210.6px;width:784px;background:#eef1f5"></div>
<div class="t" style="left:918.4px;top:1222.9px;font-size:9.3px;font-weight:400;color:#1e293b;font-family:'Liberation Mono',monospace;">2026-01-07 12:43</div>
<div class="t" style="left:1036px;top:1222.6px;font-size:10px;font-weight:700;color:#1e293b;">Finance Controller</div>
<div class="t" style="left:1150.5px;top:1222.6px;font-size:10px;font-weight:400;color:#94a3b8;">SoD Rule</div>
<div class="t" style="left:1234.8px;top:1222.6px;font-size:10px;font-weight:400;color:#475569;">Validated mapping: 510050 <span class="ar">→</span> GL 5101005 (Blocked)</div>
<div class="bd" style="left:1613px;top:1218.4px;height:18.4px;line-height:18.4px;padding:0 8px;background:rgba(239,68,68,.11);color:#ef4444;font-size:8.5px;letter-spacing:0.1px;">BLOCKED</div>
<div class="hl" style="left:906px;top:1244.1999999999998px;width:784px;background:#eef1f5"></div>
<div class="t" style="left:918.4px;top:1256.5px;font-size:9.3px;font-weight:400;color:#1e293b;font-family:'Liberation Mono',monospace;">2026-01-01 14:30</div>
<div class="t" style="left:1036px;top:1256.2px;font-size:10px;font-weight:700;color:#1e293b;">AP Supervisor</div>
<div class="t" style="left:1150.5px;top:1256.2px;font-size:10px;font-weight:400;color:#94a3b8;">Version Lock</div>
<div class="t" style="left:1234.8px;top:1256.2px;font-size:10px;font-weight:400;color:#475569;">Raised SoD conflict and routed to control: 510340 <span class="ar">→</span> GL 5101034 (Validated)</div>
<div class="bd" style="left:1613px;top:1252.0px;height:18.4px;line-height:18.4px;padding:0 8px;background:rgba(245,158,11,.11);color:#f59e0b;font-size:8.5px;letter-spacing:0.1px;">PENDING</div>
<div class="card" style="left:1728px;top:868px;width:584px;height:488px;"></div>
<div class="t" style="left:1747px;top:890.0px;font-size:16px;font-weight:700;color:#1e293b;">Approval queue</div>
<div class="hl" style="left:1729px;top:929px;width:582px;background:#eef1f5"></div>
<div class="b" style="left:1747px;top:949px;width:546px;height:102px;background:#eef2f7;border:1px solid #e2e8f0;border-radius:12px;box-sizing:border-box"></div>
<div class="t" style="left:1760px;top:963.4px;font-size:10.2px;font-weight:400;color:#7b8696;">Backlog</div>
<div class="t" style="left:1760px;top:981.5px;font-size:15px;font-weight:700;color:#1e293b;">11 approvals in flight</div>
<div class="bd" style="left:2279px;top:970.5px;height:19px;line-height:19px;padding:0 8px;background:rgba(245,158,11,.11);color:#f59e0b;font-size:8.5px;letter-spacing:0.1px;transform:translateX(-100%);">PENDING</div>
<div class="t" style="left:1760px;top:1013.9px;font-size:10.2px;font-weight:400;color:#7b8696;">Approval SLA health</div>
<div class="t" style="left:2279px;top:1015.7px;font-size:8.6px;font-weight:400;color:#64748b;transform:translateX(-100%);">72%</div>
<div class="b" style="left:1760px;top:1032.5px;width:519px;height:6.0px;background:#e2e8f0;border-radius:3px"></div>
<div class="b" style="left:1760px;top:1032.5px;width:374px;height:6.0px;background:#3b82f6;border-radius:3px"></div>
<div class="b" style="left:1747px;top:1064.5px;width:546px;height:231.0px;border:1px solid #e2e8f0;border-radius:8px;box-sizing:border-box;background:#fff"></div>
<div class="t md" style="left:1757px;top:1074.7px;font-size:10.7px;font-weight:400;color:#475569;">Item</div>
<div class="t md" style="left:2026px;top:1074.7px;font-size:10.7px;font-weight:400;color:#475569;">Owner</div>
<div class="t md" style="left:2160px;top:1074.7px;font-size:10.7px;font-weight:400;color:#475569;">SLA</div>
<div class="t md" style="left:2205px;top:1074.7px;font-size:10.7px;font-weight:400;color:#475569;">Status</div>
<div class="t" style="left:1757px;top:1106.0px;font-size:9.9px;font-weight:700;color:#1e293b;">Update DoA threshold: Policy change</div>
<div class="t" style="left:2026px;top:1105.8px;font-size:10.45px;font-weight:400;color:#94a3b8;">Costing Lead</div>
<div class="t" style="left:2160px;top:1106.2px;font-size:9.5px;font-weight:400;color:#475569;">11h</div>
<div class="bd" style="left:2205px;top:1101.8px;height:18.4px;line-height:18.4px;padding:0 8px;background:rgba(245,158,11,.11);color:#f59e0b;font-size:8.5px;letter-spacing:0.1px;">PENDING</div>
<div class="hl" style="left:1748px;top:1127.5px;width:544px;background:#eef1f5"></div>
<div class="t" style="left:1757px;top:1139.5px;font-size:9.9px;font-weight:700;color:#1e293b;">Unblock GL mapping for machine power</div>
<div class="t" style="left:2026px;top:1139.3px;font-size:10.45px;font-weight:400;color:#94a3b8;">Internal Control</div>
<div class="t" style="left:2160px;top:1139.8px;font-size:9.5px;font-weight:400;color:#475569;">6h</div>
<div class="bd" style="left:2205px;top:1135.3px;height:18.4px;line-height:18.4px;padding:0 8px;background:rgba(239,68,68,.11);color:#ef4444;font-size:8.5px;letter-spacing:0.1px;">BLOCKED</div>
<div class="hl" style="left:1748px;top:1161.0px;width:544px;background:#eef1f5"></div>
<div class="t" style="left:1757px;top:1173.0px;font-size:9.9px;font-weight:700;color:#1e293b;">Add PL12 to Packaging mapping</div>
<div class="t" style="left:2026px;top:1172.8px;font-size:10.45px;font-weight:400;color:#94a3b8;">Plant Controller</div>
<div class="t" style="left:2160px;top:1173.2px;font-size:9.5px;font-weight:400;color:#475569;">18h</div>
<div class="bd" style="left:2205px;top:1168.8px;height:18.4px;line-height:18.4px;padding:0 8px;background:rgba(245,158,11,.11);color:#f59e0b;font-size:8.5px;letter-spacing:0.1px;">PENDING</div>
<div class="hl" style="left:1748px;top:1194.5px;width:544px;background:#eef1f5"></div>
<div class="t" style="left:1757px;top:1206.5px;font-size:9.9px;font-weight:700;color:#1e293b;">Publish governance version GV-2026.02</div>
<div class="t" style="left:2026px;top:1206.3px;font-size:10.45px;font-weight:400;color:#94a3b8;">Finance Controller</div>
<div class="t" style="left:2160px;top:1206.8px;font-size:9.5px;font-weight:400;color:#475569;">2d</div>
<div class="bd" style="left:2205px;top:1202.3px;height:18.4px;line-height:18.4px;padding:0 8px;background:rgba(245,158,11,.11);color:#f59e0b;font-size:8.5px;letter-spacing:0.1px;">PENDING</div>
<div class="hl" style="left:1748px;top:1228.0px;width:544px;background:#eef1f5"></div>
<div class="t" style="left:1757px;top:1240.0px;font-size:9.9px;font-weight:700;color:#1e293b;">SoD rule change: PR vs AP</div>
<div class="t" style="left:2026px;top:1239.8px;font-size:10.45px;font-weight:400;color:#94a3b8;">Internal Control</div>
<div class="t" style="left:2160px;top:1240.2px;font-size:9.5px;font-weight:400;color:#475569;">1d</div>
<div class="bd" style="left:2205px;top:1235.8px;height:18.4px;line-height:18.4px;padding:0 8px;background:rgba(245,158,11,.11);color:#f59e0b;font-size:8.5px;letter-spacing:0.1px;">PENDING</div>
<div class="hl" style="left:1748px;top:1261.5px;width:544px;background:#eef1f5"></div>
<div class="t" style="left:1757px;top:1273.5px;font-size:9.9px;font-weight:700;color:#1e293b;">Unlock period 2026-01 for correction</div>
<div class="t" style="left:2026px;top:1273.3px;font-size:10.45px;font-weight:400;color:#94a3b8;">CFO Office</div>
<div class="t" style="left:2160px;top:1273.8px;font-size:9.5px;font-weight:400;color:#475569;">4h</div>
<div class="bd" style="left:2205px;top:1269.3px;height:18.4px;line-height:18.4px;padding:0 8px;background:rgba(245,158,11,.11);color:#f59e0b;font-size:8.5px;letter-spacing:0.1px;">PENDING</div>
<div class="b" style="left:1747px;top:1308.5px;width:546px;height:28.0px;border:1px solid #edf0f4;border-radius:8px;box-sizing:border-box;background:#fff"></div>
<svg class="b" style="left:1951px;top:1316px" width="10" height="13" viewBox="0 0 10 13"><path d="M1.5 1 H6 L8.8 3.8 V11.8 H1.5 Z M5.8 1 V4 H8.8 M3.4 7 H6.8 M3.4 9.4 H6.8" fill="none" stroke="#64748b" stroke-width="1.25" stroke-linejoin="round"/></svg>
<div class="t" style="left:1969px;top:1317.5px;font-size:10px;font-weight:700;color:#1e293b;">Open evidence summary</div>
</div></div>
</body></html>
